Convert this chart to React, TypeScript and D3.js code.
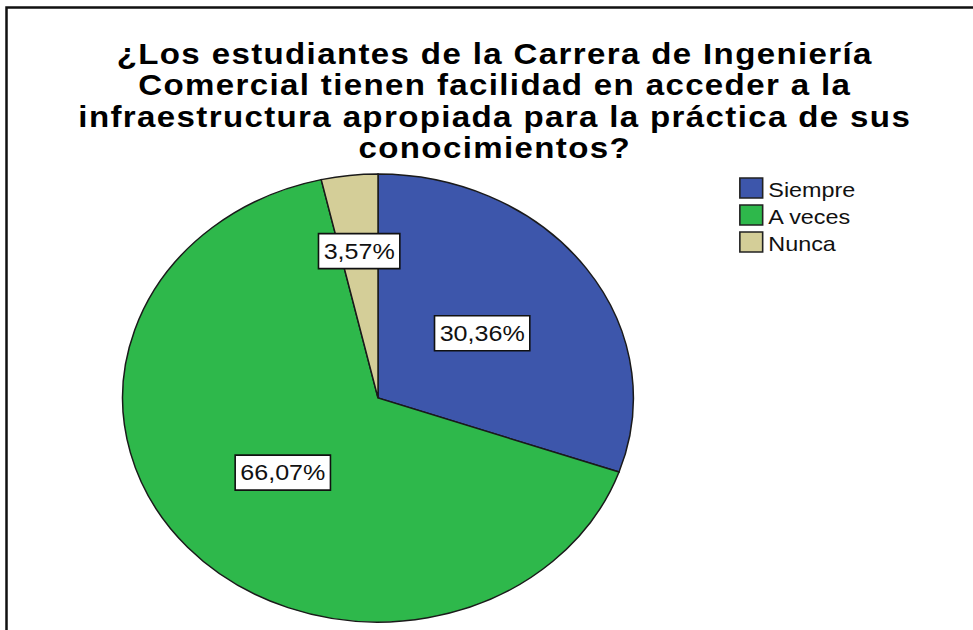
import React, { useEffect, useRef } from 'react';
import * as d3 from 'd3';

const categories = ['Siempre', 'A veces', 'Nunca'];
const percents = [30.36, 66.07, 3.57];
const colors = ['#3d56ab', '#2eb84b', '#d4ce98'];
const labelRadius = [0.5, 0.5, 0.66];
const titleLines = [
  '¿Los estudiantes de la Carrera de Ingeniería',
  'Comercial tienen facilidad en acceder a la',
  'infraestructura apropiada para la práctica de sus',
  'conocimientos?',
];

const W = 973;
const H = 630;
const SX = 1.14; // the picture is stretched sideways

const App = () => {
  const ref = useRef<SVGSVGElement>(null);

  useEffect(() => {
    const svg = d3.select(ref.current);
    svg.selectAll('*').remove();
    const font = '"Liberation Sans", Arial, sans-serif';

    svg.append('rect').attr('width', W).attr('height', H).attr('fill', '#fff');
    svg.append('path')
      .attr('d', `M6.5,${H + 5}V7.5H${W + 5}`)
      .attr('fill', 'none')
      .attr('stroke', '#111')
      .attr('stroke-width', 2.5);

    const g = svg.append('g').attr('transform', `scale(${SX},1)`);

    // title
    g.append('g')
      .selectAll('text')
      .data(titleLines)
      .join('text')
      .attr('x', 434)
      .attr('y', (d, i) => 64 + i * 31.4)
      .attr('text-anchor', 'middle')
      .attr('font-family', font)
      .attr('font-weight', 'bold')
      .attr('font-size', 29)
      .attr('letter-spacing', 1.2)
      .attr('fill', '#000')
      .text(d => d);

    // pie
    const r = 224;
    const cx = 331.6;
    const cy = 398;
    const pie = d3.pie<number>().sort(null).value(d => d);
    const arcs = pie(percents);
    const arc = d3.arc<d3.PieArcDatum<number>>().innerRadius(0).outerRadius(r);
    const pg = g.append('g').attr('transform', `translate(${cx},${cy})`);

    pg.selectAll('path')
      .data(arcs)
      .join('path')
      .attr('d', arc)
      .attr('fill', (d, i) => colors[i])
      .attr('stroke', '#1a1a1a')
      .attr('stroke-width', 1.5)
      .attr('vector-effect', 'non-scaling-stroke');

    // labels
    const fmt = (v: number) => v.toFixed(2).replace('.', ',') + '%';
    arcs.forEach((a, i) => {
      const la = d3.arc<d3.PieArcDatum<number>>()
        .innerRadius(0)
        .outerRadius(2 * r * labelRadius[i]);
      const [lx, ly] = la.centroid(a);
      const lg = pg.append('g').attr('transform', `translate(${lx},${ly})`);
      const box = lg.append('rect');
      const t = lg.append('text')
        .attr('text-anchor', 'middle')
        .attr('y', 7.8)
        .attr('font-family', font)
        .attr('font-size', 22)
        .attr('fill', '#111')
        .text(fmt(percents[i]));
      const tw = (t.node() as SVGTextElement).getComputedTextLength();
      box.attr('x', -tw / 2 - 4.5)
        .attr('y', -17.5)
        .attr('width', tw + 9)
        .attr('height', 35)
        .attr('fill', '#fff')
        .attr('stroke', '#111')
        .attr('stroke-width', 1.6)
        .attr('vector-effect', 'non-scaling-stroke');
    });

    // legend
    const leg = g.append('g').attr('transform', 'translate(649,178)');
    const rows = leg.selectAll('g')
      .data(categories)
      .join('g')
      .attr('transform', (d, i) => `translate(0,${i * 27})`);
    rows.append('rect')
      .attr('width', 20)
      .attr('height', 20)
      .attr('fill', (d, i) => colors[i])
      .attr('stroke', '#222')
      .attr('stroke-width', 1.6)
      .attr('vector-effect', 'non-scaling-stroke');
    rows.append('text')
      .attr('x', 25)
      .attr('y', 19)
      .attr('font-family', font)
      .attr('font-size', 20.5)
      .attr('fill', '#111')
      .text(d => d);
  }, []);

  return (
    <svg ref={ref} width={W} height={H}
      style={{ position: 'absolute', left: 0, top: 0, display: 'block' }} />
  );
};

export default App;
